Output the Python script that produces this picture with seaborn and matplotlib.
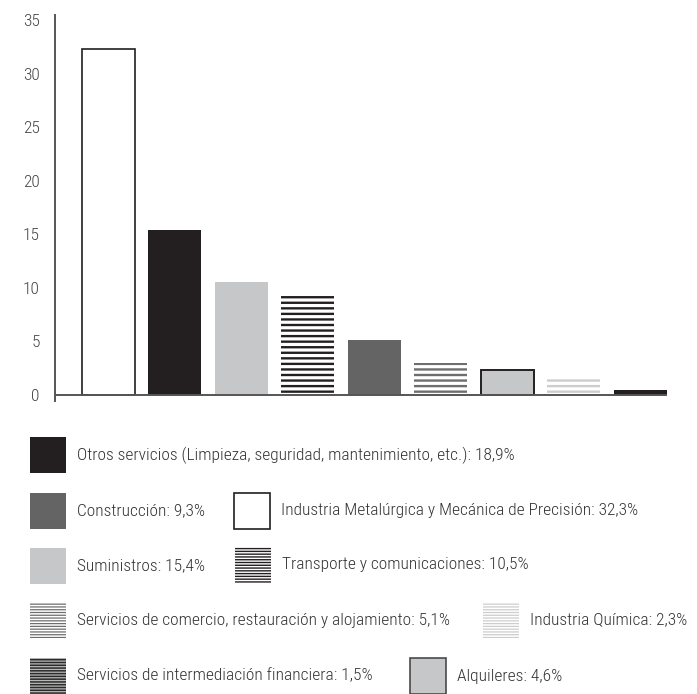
import matplotlib
matplotlib.use("Agg")
import matplotlib.pyplot as plt
from matplotlib.patches import Rectangle
import numpy as np
import pandas as pd
import seaborn as sns

# bar heights (left to right)
bar_values = [32.3, 15.4, 10.5, 9.3, 5.1, 3.0, 2.3, 1.5, 0.5]
bar_styles = ["white_edge", "black", "light", "black_stripes", "dark",
              "gray_stripes", "light_edge", "light_stripes", "black"]

y_ticks = [0, 5, 10, 15, 20, 25, 30, 35]

legend_labels = [
    "Otros servicios (Limpieza, seguridad, mantenimiento, etc.): 18,9%",
    "Construcción: 9,3%",
    "Industria Metalúrgica y Mecánica de Precisión: 32,3%",
    "Suministros: 15,4%",
    "Transporte y comunicaciones: 10,5%",
    "Servicios de comercio, restauración y alojamiento: 5,1%",
    "Industria Química: 2,3%",
    "Servicios de intermediación financiera: 1,5%",
    "Alquileres: 4,6%",
]
legend_styles = ["black", "dark", "white_edge", "light", "black_stripes_l",
                 "gray_stripes_l", "light_stripes_l", "dark_stripes_l", "light_edge2"]
# legend box positions (left x, centre y) in pixels of the figure
legend_pos = [(30, 455), (30, 511), (234, 511), (30, 566), (235, 565),
              (30, 620), (483, 620), (30, 676), (410, 676)]

BLACK = "#231f20"
DARK = "#646464"
LIGHT = "#c6c7c8"

STYLES = {
    "black": dict(facecolor=BLACK, edgecolor=BLACK, linewidth=0),
    "dark": dict(facecolor=DARK, edgecolor=DARK, linewidth=0),
    "light": dict(facecolor=LIGHT, edgecolor=LIGHT, linewidth=0),
    "white_edge": dict(facecolor="white", edgecolor=BLACK, linewidth=1.2),
    "light_edge": dict(facecolor=LIGHT, edgecolor=BLACK, linewidth=1.4),
    "light_edge2": dict(facecolor=LIGHT, edgecolor="#4a4a4a", linewidth=1.2),
    "black_stripes": dict(facecolor="white", edgecolor=BLACK, linewidth=0, hatch="---", hlw=1.7),
    "gray_stripes": dict(facecolor="white", edgecolor="#6e6e6e", linewidth=0, hatch="---", hlw=1.7),
    "light_stripes": dict(facecolor="white", edgecolor="#cdcdcd", linewidth=0, hatch="---", hlw=1.7),
    "black_stripes_l": dict(facecolor="white", edgecolor=BLACK, linewidth=0, hatch="------", hlw=1.0),
    "gray_stripes_l": dict(facecolor="white", edgecolor="#6e6e6e", linewidth=0, hatch="------", hlw=0.9),
    "light_stripes_l": dict(facecolor="white", edgecolor="#cdcdcd", linewidth=0, hatch="------", hlw=0.9),
    "dark_stripes_l": dict(facecolor="#b8b8b8", edgecolor="#2a2a2a", linewidth=0, hatch="------", hlw=1.1),
}


def apply_style(patch, s):
    patch.set_facecolor(s["facecolor"])
    patch.set_edgecolor(s["edgecolor"])
    patch.set_linewidth(s["linewidth"])
    if "hatch" in s:
        patch.set_hatch(s["hatch"])
        if hasattr(patch, "set_hatch_linewidth"):
            patch.set_hatch_linewidth(s["hlw"])


sns.set_style("white")
plt.rcParams["font.family"] = ["Roboto Condensed", "Roboto", "DejaVu Sans"]
plt.rcParams["hatch.linewidth"] = 1.7

W, H = 697, 694
fig = plt.figure(figsize=(W / 100, H / 100), dpi=100)

ylo, yhi = -0.6, 35.5
ax = fig.add_axes([55 / W, 1 - 401.4 / H, (667 - 55) / W, (401.4 - 14.6) / H])

df = pd.DataFrame({"pos": [str(i) for i in range(len(bar_values))], "val": bar_values})
sns.barplot(data=df, x="pos", y="val", color="white", ax=ax, width=0.8, saturation=1)

for patch, st in zip(ax.patches, bar_styles):
    apply_style(patch, STYLES[st])

ax.set_xlim(-0.8, 8.4)
ax.set_ylim(ylo, yhi)
ax.axhline(0, color="#555555", lw=1.4, zorder=5)
ax.set_yticks(y_ticks)
ax.set_yticklabels([str(t) for t in y_ticks], color="#444444", fontsize=12.5,
                   fontweight="light")
ax.tick_params(axis="y", length=0, pad=11)
ax.set_xticks([])
ax.set_xlabel("")
ax.set_ylabel("")
for side in ["top", "right", "bottom"]:
    ax.spines[side].set_visible(False)
ax.spines["left"].set_color("#555555")
ax.spines["left"].set_linewidth(1.4)

# legend drawn in figure pixel space
lax = fig.add_axes([0, 0, 1, 1])
lax.set_xlim(0, W)
lax.set_ylim(H, 0)
lax.axis("off")
box = 36
for lab, st, (x0, yc) in zip(legend_labels, legend_styles, legend_pos):
    r = Rectangle((x0, yc - box / 2), box, box)
    apply_style(r, STYLES[st])
    lax.add_patch(r)
    lax.text(x0 + box + 11, yc, lab, va="center", ha="left",
             fontsize=12.5, color="#333333", fontweight="light")

fig.savefig("out.png", dpi=100)
